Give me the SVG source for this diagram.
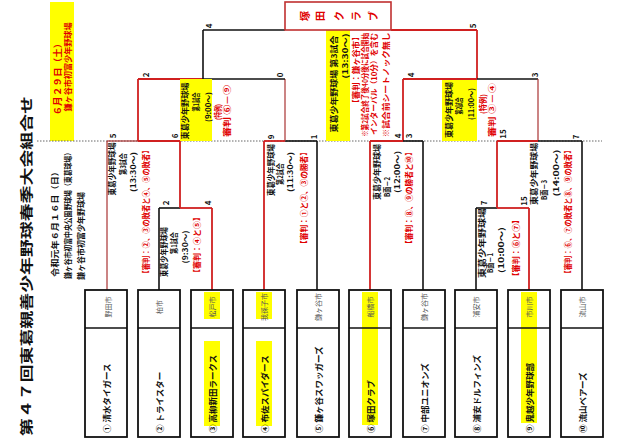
<svg xmlns="http://www.w3.org/2000/svg" width="640" height="445" viewBox="0 0 640 445">
<style>
.t{font-family:"Noto Sans CJK JP","Liberation Sans",sans-serif;font-weight:bold;dominant-baseline:central;text-anchor:middle;fill:#111}
.r{fill:#e00000}
.s7{font-size:7.5px}.s8{font-size:8px}.s9{font-size:9px}
.nm{font-family:"Noto Sans CJK JP","Liberation Sans",sans-serif;font-weight:bold;font-size:8.5px;dominant-baseline:central;text-anchor:start;fill:#111}
.ct{font-family:"Noto Sans CJK JP","Liberation Sans",sans-serif;font-size:7px;dominant-baseline:central;text-anchor:middle;fill:#555}
.box{fill:#fff;stroke:#111;stroke-width:1.8}
.hl{fill:#ffff00}
.w{stroke:#d02020;stroke-width:1.8;fill:none}
.l{stroke:#111;stroke-width:1.6;fill:none}
.m{stroke:#a83232;stroke-width:1.2;fill:none}
.dot{stroke:#666;stroke-width:1;stroke-dasharray:1.5 1.5}
</style>

<!-- title and info -->
<g id="title">
<text class="t" font-size="13" transform="translate(25,266) rotate(-90)" textLength="340" lengthAdjust="spacingAndGlyphs">第４７回東葛親善少年野球春季大会組合せ</text>
<text class="t s8" transform="translate(54,222) rotate(-90)" textLength="110" lengthAdjust="spacingAndGlyphs">令和元年６月１６日（日）</text>
<text class="t s7" transform="translate(67,214) rotate(-90)" textLength="130" lengthAdjust="spacingAndGlyphs">鎌ヶ谷市初富中央公園野球場（東葛球場）</text>
<text class="t s8" transform="translate(80,236) rotate(-90)" textLength="88" lengthAdjust="spacingAndGlyphs">鎌ヶ谷市初富少年野球場</text>
</g>
<g id="day2">
<rect class="hl" x="50" y="2" width="24" height="139"/>
<text class="t r s9" transform="translate(57,77) rotate(-90)" textLength="77" lengthAdjust="spacingAndGlyphs">６月２９日（土）</text>
<text class="t r s8" transform="translate(67,67) rotate(-90)" textLength="89" lengthAdjust="spacingAndGlyphs">鎌ヶ谷市初富少年野球場</text>
</g>

<line class="dot" x1="37" y1="141" x2="602" y2="141"/>

<!-- connectors -->
<g id="connectors">
<line class="m" x1="107" y1="290" x2="107" y2="141"/>
<line class="l" x1="159" y1="290" x2="159" y2="208"/>
<line class="w" x1="212" y1="290" x2="212" y2="208"/>
<line class="l" x1="159" y1="208" x2="180" y2="208"/>
<line class="w" x1="180" y1="208" x2="212" y2="208"/>
<line class="w" x1="180" y1="208" x2="180" y2="141"/>
<line class="m" x1="107" y1="141" x2="138" y2="141"/>
<line class="w" x1="138" y1="141" x2="180" y2="141"/>
<line class="w" x1="138" y1="141" x2="138" y2="79"/>
<line class="w" x1="264" y1="290" x2="264" y2="141"/>
<line class="l" x1="317" y1="290" x2="317" y2="141"/>
<line class="w" x1="264" y1="141" x2="285" y2="141"/>
<line class="l" x1="285" y1="141" x2="317" y2="141"/>
<line class="m" x1="285" y1="141" x2="285" y2="79"/>
<line class="w" x1="138" y1="79" x2="203" y2="79"/>
<line class="l" x1="203" y1="79" x2="285" y2="79"/>
<line class="l" x1="203" y1="79" x2="203" y2="30"/>
<line class="l" x1="203" y1="30" x2="285" y2="30"/>
<line class="w" x1="391" y1="30" x2="477" y2="30"/>
<line class="w" x1="477" y1="30" x2="477" y2="79"/>
<line class="w" x1="403" y1="79" x2="477" y2="79"/>
<line class="l" x1="477" y1="79" x2="538" y2="79"/>
<line class="w" x1="403" y1="79" x2="403" y2="141"/>
<line class="m" x1="538" y1="79" x2="538" y2="141"/>
<line class="w" x1="370" y1="290" x2="370" y2="141"/>
<line class="l" x1="423" y1="290" x2="423" y2="141"/>
<line class="w" x1="370" y1="141" x2="403" y2="141"/>
<line class="l" x1="403" y1="141" x2="423" y2="141"/>
<line class="l" x1="476" y1="290" x2="476" y2="208"/>
<line class="w" x1="529" y1="290" x2="529" y2="208"/>
<line class="l" x1="476" y1="208" x2="497" y2="208"/>
<line class="w" x1="497" y1="208" x2="529" y2="208"/>
<line class="w" x1="497" y1="208" x2="497" y2="141"/>
<line class="w" x1="497" y1="141" x2="538" y2="141"/>
<line class="l" x1="538" y1="141" x2="582" y2="141"/>
<line class="l" x1="582" y1="290" x2="582" y2="141"/>
<!-- scores -->
<g class="t s8">
<text transform="translate(165,203) rotate(-90)">2</text>
<text transform="translate(207,203) rotate(-90)">4</text>
<text transform="translate(112,136) rotate(-90)">5</text>
<text transform="translate(174,136) rotate(-90)">6</text>
<text transform="translate(270,137) rotate(-90)">9</text>
<text transform="translate(313,137) rotate(-90)">1</text>
<text transform="translate(397,136) rotate(-90)">4</text>
<text transform="translate(408,136) rotate(-90)">3</text>
<text transform="translate(483,203) rotate(-90)">7</text>
<text transform="translate(523,201) rotate(-90)">15</text>
<text transform="translate(502,134) rotate(-90)">15</text>
<text transform="translate(575,137) rotate(-90)">7</text>
<text transform="translate(145,75) rotate(-90)">2</text>
<text transform="translate(279,75) rotate(-90)">0</text>
<text transform="translate(410,75) rotate(-90)">4</text>
<text transform="translate(534,75) rotate(-90)">3</text>
<text transform="translate(208,26) rotate(-90)">4</text>
<text transform="translate(472,26) rotate(-90)">5</text>
</g>
</g>

<!-- game labels -->
<g id="gameA1" class="s7">
<text class="t" transform="translate(163,252) rotate(-90)" textLength="50" lengthAdjust="spacingAndGlyphs">東葛少年野球場</text>
<text class="t" transform="translate(173,243) rotate(-90)" textLength="22" lengthAdjust="spacingAndGlyphs">第1試合</text>
<text class="t" transform="translate(184,247) rotate(-90)" textLength="33" lengthAdjust="spacingAndGlyphs">(9:30～)</text>
<text class="t r" transform="translate(196,245) rotate(-90)" textLength="64" lengthAdjust="spacingAndGlyphs">【審判：④と⑤】</text>
</g>
<g id="gameA3" class="s7">
<text class="t" transform="translate(111,169) rotate(-90)" textLength="53" lengthAdjust="spacingAndGlyphs">東葛少年野球場</text>
<text class="t" transform="translate(122,164) rotate(-90)" textLength="22" lengthAdjust="spacingAndGlyphs">第3試合</text>
<text class="t" transform="translate(132,172) rotate(-90)" textLength="40" lengthAdjust="spacingAndGlyphs">(13:30～)</text>
<text class="t r" transform="translate(145,212) rotate(-90)" textLength="131" lengthAdjust="spacingAndGlyphs">【審判：②、③の敗者と④、⑤の敗者】</text>
</g>
<g id="gameA2" class="s7">
<text class="t" transform="translate(270,170) rotate(-90)" textLength="52" lengthAdjust="spacingAndGlyphs">東葛少年野球場</text>
<text class="t" transform="translate(279,174) rotate(-90)" textLength="22" lengthAdjust="spacingAndGlyphs">第2試合</text>
<text class="t" transform="translate(289,172) rotate(-90)" textLength="40" lengthAdjust="spacingAndGlyphs">(11:30～)</text>
<text class="t r" transform="translate(303,198) rotate(-90)" textLength="100" lengthAdjust="spacingAndGlyphs">【審判：①と②、③の勝者】</text>
</g>
<g id="gameB2" class="s7">
<text class="t" transform="translate(376,172) rotate(-90)" textLength="56" lengthAdjust="spacingAndGlyphs">東葛少年野球場</text>
<text class="t" transform="translate(386,187) rotate(-90)" textLength="20" lengthAdjust="spacingAndGlyphs">B面－2</text>
<text class="t" transform="translate(396,172) rotate(-90)" textLength="42" lengthAdjust="spacingAndGlyphs">(12:00～)</text>
<text class="t r" transform="translate(408,198) rotate(-90)" textLength="100" lengthAdjust="spacingAndGlyphs">【審判：⑧、⑨の勝者と⑩】</text>
</g>
<g id="gameB1" class="s7">
<text class="t" transform="translate(481,243) rotate(-90)" textLength="70" lengthAdjust="spacingAndGlyphs">東葛少年野球場</text>
<text class="t" transform="translate(489,263) rotate(-90)" textLength="20" lengthAdjust="spacingAndGlyphs">B面－1</text>
<text class="t" transform="translate(500,250) rotate(-90)" textLength="46" lengthAdjust="spacingAndGlyphs">(10:00～)</text>
<text class="t r" transform="translate(515,248) rotate(-90)" textLength="65" lengthAdjust="spacingAndGlyphs">【審判：⑥と⑦】</text>
</g>
<g id="gameB3" class="s7">
<text class="t" transform="translate(533,174) rotate(-90)" textLength="62" lengthAdjust="spacingAndGlyphs">東葛少年野球場</text>
<text class="t" transform="translate(543,190) rotate(-90)" textLength="20" lengthAdjust="spacingAndGlyphs">B面－3</text>
<text class="t" transform="translate(555,173) rotate(-90)" textLength="47" lengthAdjust="spacingAndGlyphs">(14:00～)</text>
<text class="t r" transform="translate(567,212) rotate(-90)" textLength="131" lengthAdjust="spacingAndGlyphs">【審判：⑥、⑦の敗者と⑧、⑨の敗者】</text>
</g>
<g id="semi1" class="s7">
<rect class="hl" x="180" y="79" width="32" height="62"/>
<text class="t" transform="translate(184,111) rotate(-90)" textLength="57" lengthAdjust="spacingAndGlyphs">東葛少年野球場</text>
<text class="t" transform="translate(195,102) rotate(-90)" textLength="19" lengthAdjust="spacingAndGlyphs">第1試合</text>
<text class="t" transform="translate(207,107) rotate(-90)" textLength="30" lengthAdjust="spacingAndGlyphs">(9:00～)</text>
<text class="t r" transform="translate(217,112) rotate(-90)" textLength="16" lengthAdjust="spacingAndGlyphs">(特例)</text>
<text class="t r s8" transform="translate(226,111) rotate(-90)" textLength="52" lengthAdjust="spacingAndGlyphs">審判 ⑥－⑨</text>
</g>
<g id="semi2" class="s7">
<rect class="hl" x="442" y="80" width="35" height="61"/>
<text class="t" transform="translate(448,110) rotate(-90)" textLength="56" lengthAdjust="spacingAndGlyphs">東葛少年野球場</text>
<text class="t" transform="translate(458,106) rotate(-90)" textLength="17" lengthAdjust="spacingAndGlyphs">第2試合</text>
<text class="t" transform="translate(470,104) rotate(-90)" textLength="32" lengthAdjust="spacingAndGlyphs">(11:00～)</text>
<text class="t r" transform="translate(482,104) rotate(-90)" textLength="20" lengthAdjust="spacingAndGlyphs">(特例)</text>
<text class="t r s8" transform="translate(491,110) rotate(-90)" textLength="54" lengthAdjust="spacingAndGlyphs">審判 ③－④</text>
</g>
<g id="final" class="s7">
<rect class="hl" x="326" y="30" width="24" height="111"/>
<text class="t" transform="translate(333,84) rotate(-90)" textLength="97" lengthAdjust="spacingAndGlyphs">東葛少年野球場 第3試合</text>
<text class="t" transform="translate(344,56) rotate(-90)" textLength="45" lengthAdjust="spacingAndGlyphs">(13:30～)</text>
<text class="t r" transform="translate(355,70) rotate(-90)" textLength="75" lengthAdjust="spacingAndGlyphs">【審判：鎌ヶ谷市】</text>
<text class="t r" transform="translate(364,85) rotate(-90)" textLength="104" lengthAdjust="spacingAndGlyphs">※第2試合終了後40分後に試合開始</text>
<text class="t r" transform="translate(373,84) rotate(-90)" textLength="102" lengthAdjust="spacingAndGlyphs">インターバル（10分）を含む</text>
<text class="t r" transform="translate(385,85) rotate(-90)" textLength="105" lengthAdjust="spacingAndGlyphs">※試合前シートノック無し</text>
</g>
<g id="champion">
<rect x="285" y="2" width="106" height="28" fill="#fff" stroke="#c03030" stroke-width="1.6"/>
<g class="t r" font-size="10">
<text transform="translate(304,16) rotate(-90)">塚</text>
<text transform="translate(319,16) rotate(-90)">田</text>
<text transform="translate(338,16) rotate(-90)">ク</text>
<text transform="translate(355,16) rotate(-90)">ラ</text>
<text transform="translate(372,16) rotate(-90)">ブ</text>
</g>
</g>

<!-- teams -->
<g id="team1"><rect class="box" x="85" y="290" width="42" height="147"/><line class="l" x1="85" y1="328" x2="127" y2="328"/>
<text class="ct" transform="translate(108,307) rotate(-90)">野田市</text><text class="nm" transform="translate(106,433) rotate(-90)">① 清水タイガース</text></g>
<g id="team2"><rect class="box" x="138" y="290" width="42" height="147"/><line class="l" x1="138" y1="328" x2="180" y2="328"/>
<text class="ct" transform="translate(159,307) rotate(-90)">柏市</text><text class="nm" transform="translate(159,433) rotate(-90)">② トライスター</text></g>
<g id="team3"><rect class="box" x="191" y="290" width="42" height="147"/>
<rect class="hl" x="204" y="292" width="16" height="27"/><rect class="hl" x="204" y="341" width="16" height="85"/><line class="l" x1="191" y1="328" x2="233" y2="328"/>
<text class="ct" transform="translate(212,307) rotate(-90)">松戸市</text><text class="nm" transform="translate(212,433) rotate(-90)">③ 高柳新田ラークス</text></g>
<g id="team4"><rect class="box" x="243" y="290" width="42" height="147"/>
<rect class="hl" x="256" y="292" width="16" height="27"/><rect class="hl" x="256" y="341" width="16" height="85"/><line class="l" x1="243" y1="328" x2="285" y2="328"/>
<text class="ct" transform="translate(264,307) rotate(-90)">我孫子市</text><text class="nm" transform="translate(264,433) rotate(-90)">④ 布佐スパイダース</text></g>
<g id="team5"><rect class="box" x="297" y="290" width="42" height="147"/><line class="l" x1="297" y1="328" x2="339" y2="328"/>
<text class="ct" transform="translate(318,307) rotate(-90)">鎌ヶ谷市</text><text class="nm" transform="translate(318,433) rotate(-90)">⑤ 鎌ヶ谷スワッガーズ</text></g>
<g id="team6"><rect class="box" x="349" y="290" width="42" height="147"/>
<rect class="hl" x="362" y="292" width="16" height="133"/><line class="l" x1="349" y1="328" x2="391" y2="328"/>
<text class="ct" transform="translate(370,307) rotate(-90)">船橋市</text><text class="nm" transform="translate(370,433) rotate(-90)">⑥ 塚田クラブ</text></g>
<g id="team7"><rect class="box" x="403" y="290" width="42" height="147"/><line class="l" x1="403" y1="328" x2="445" y2="328"/>
<text class="ct" transform="translate(424,307) rotate(-90)">鎌ヶ谷市</text><text class="nm" transform="translate(424,433) rotate(-90)">⑦ 中部ユニオンズ</text></g>
<g id="team8"><rect class="box" x="455" y="290" width="42" height="147"/><line class="l" x1="455" y1="328" x2="497" y2="328"/>
<text class="ct" transform="translate(476,307) rotate(-90)">浦安市</text><text class="nm" transform="translate(476,433) rotate(-90)">⑧ 浦安ドルフィンズ</text></g>
<g id="team9"><rect class="box" x="508" y="290" width="42" height="147"/>
<rect class="hl" x="521" y="292" width="16" height="131"/><line class="l" x1="508" y1="328" x2="550" y2="328"/>
<text class="ct" transform="translate(529,307) rotate(-90)">市川市</text><text class="nm" transform="translate(529,433) rotate(-90)">⑨ 鬼越少年野球部</text></g>
<g id="team10"><rect class="box" x="561" y="290" width="42" height="147"/><line class="l" x1="561" y1="328" x2="603" y2="328"/>
<text class="ct" transform="translate(582,307) rotate(-90)">流山市</text><text class="nm" transform="translate(582,433) rotate(-90)">⑩ 流山ベアーズ</text></g>
</svg>
